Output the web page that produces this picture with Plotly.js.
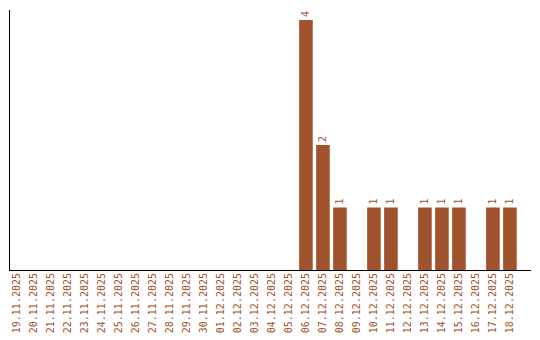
<!DOCTYPE html>
<html><head><meta charset="utf-8">
<script src="https://cdn.plot.ly/plotly-3.0.1.min.js"></script>
<style>body{margin:0;padding:0;background:#fff}#chart{width:540px;height:340px}</style>
</head><body><div id="chart"></div>
<script>
const dates = ["19.11.2025","20.11.2025","21.11.2025","22.11.2025","23.11.2025","24.11.2025","25.11.2025","26.11.2025","27.11.2025","28.11.2025","29.11.2025","30.11.2025","01.12.2025","02.12.2025","03.12.2025","04.12.2025","05.12.2025","06.12.2025","07.12.2025","08.12.2025","09.12.2025","10.12.2025","11.12.2025","12.12.2025","13.12.2025","14.12.2025","15.12.2025","16.12.2025","17.12.2025","18.12.2025"];
const counts = [0,0,0,0,0,0,0,0,0,0,0,0,0,0,0,0,0,4,2,1,0,1,1,0,1,1,1,0,1,1];
const labels = counts.map(v => v > 0 ? String(v) : "");
const color = "#a0522d";
const font = {family: "DejaVu Sans Mono, monospace", size: 10, color: color};
Plotly.newPlot("chart", [{
  type: "bar", x: dates, y: counts, text: labels,
  textposition: "outside", textangle: -90, cliponaxis: false,
  textfont: font, marker: {color: color}, hoverinfo: "none"
}], {
  width: 540, height: 340,
  margin: {l: 10, r: 9, t: 10, b: 70},
  paper_bgcolor: "#fff", plot_bgcolor: "#fff",
  bargap: 0.2, showlegend: false,
  xaxis: {type: "category", range: [-0.41, 30.24], showline: true, linecolor: "#000", linewidth: 1,
          showgrid: false, zeroline: false, ticks: "", ticklabelstandoff: -2, tickangle: -90, tickfont: font, fixedrange: true},
  yaxis: {range: [0, 4.16], showline: true, linecolor: "#000", linewidth: 1, showgrid: false,
          zeroline: false, showticklabels: false, ticks: "", fixedrange: true}
}, {displayModeBar: false, staticPlot: true});
</script></body></html>
